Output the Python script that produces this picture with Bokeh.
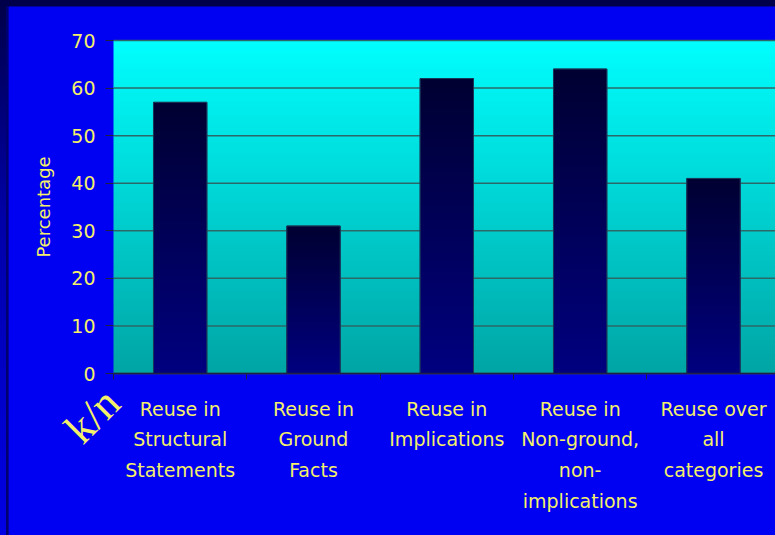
import numpy as np
from bokeh.plotting import figure
from bokeh.layouts import column, row
from bokeh.models import FixedTicker, Label, Range1d, Spacer
from bokeh.embed import file_html
from bokeh.resources import INLINE

categories = [
    "Reuse in\nStructural\nStatements",
    "Reuse in\nGround\nFacts",
    "Reuse in\nImplications",
    "Reuse in\nNon-ground,\nnon-\nimplications",
    "Reuse over\nall\ncategories",
]
percentages = [57, 31, 62, 64, 41]
y_ticks = [0, 10, 20, 30, 40, 50, 60, 70]

YELLOW = "#F4F06A"
BLUE = "#0000F2"
DARK = "#00004A"
FONT = "DejaVu Sans"

# canvas geometry (pixels) of the figure and of its plotting area
W, H = 767, 529
LEFT, TOP, BOTTOM = 105, 34, 367
PX_X = 133.33                       # pixels per category
PX_Y = (BOTTOM - TOP) / 70.0        # pixels per percent
x0 = -0.5 - LEFT / PX_X
x1 = x0 + W / PX_X
y1 = 70 + TOP / PX_Y
y0 = 70 - (H - TOP) / PX_Y

xs = np.arange(len(categories))
p = figure(
    width=W, height=H,
    x_range=Range1d(x0, x1), y_range=Range1d(y0, y1),
    output_backend="svg", toolbar_location=None,
    min_border=0,
)
p.background_fill_color = BLUE
p.border_fill_color = BLUE
p.outline_line_color = None
p.xgrid.visible = False
p.ygrid.visible = False

# background gradient of the plot area
n = 200
t = np.linspace(0, 1, n)
bg = np.zeros((n, 1), dtype=np.uint32)
view = bg.view(dtype=np.uint8).reshape((n, 1, 4))
g = (165 + 90 * t).clip(0, 255).astype(np.uint8)
view[:, 0, 0] = 0
view[:, 0, 1] = g
view[:, 0, 2] = g
view[:, 0, 3] = 255
p.image_rgba(image=[bg], x=-0.5, y=0, dw=x1 + 0.5, dh=70, level="image")

# horizontal grid lines
p.segment(x0=[-0.5] * len(y_ticks), x1=[x1] * len(y_ticks), y0=y_ticks, y1=y_ticks,
          line_color="#2d6868", line_width=1.5, level="underlay")

# bars: solid base then gradient overlay
p.vbar(x=xs, top=percentages, width=0.4, fill_color="#000060", line_color="#1a3a5a", line_width=1)
bars = []
for v in percentages:
    im = np.zeros((n, 1), dtype=np.uint32)
    vv = im.view(dtype=np.uint8).reshape((n, 1, 4))
    b = (128 - 78 * t).astype(np.uint8)
    vv[:, 0, 0] = 0
    vv[:, 0, 1] = 0
    vv[:, 0, 2] = b
    vv[:, 0, 3] = 255
    bars.append(im)
p.image_rgba(image=bars, x=list(xs - 0.2), y=[0] * len(xs), dw=[0.4] * len(xs), dh=percentages)
p.vbar(x=xs, top=percentages, width=0.4, fill_alpha=0, line_color="#1a3a5a", line_width=1)

# y axis
ya = p.yaxis[0]
ya.fixed_location = -0.5
ya.bounds = (0, 70)
ya.ticker = FixedTicker(ticks=y_ticks)
ya.axis_line_color = None
ya.major_tick_line_color = "#202040"
ya.major_tick_out = 8
ya.major_tick_in = 0
ya.minor_tick_line_color = None
ya.major_label_text_color = YELLOW
ya.major_label_text_font = FONT
ya.major_label_text_font_size = "19px"
ya.major_label_standoff = 10
ya.axis_label = "Percentage"
ya.axis_label_text_color = YELLOW
ya.axis_label_text_font = FONT
ya.axis_label_text_font_size = "18px"
ya.axis_label_text_font_style = "normal"
ya.axis_label_standoff = 14

# x axis
xa = p.xaxis[0]
xa.fixed_location = 0
xa.bounds = (-0.5, x1)
xa.ticker = FixedTicker(ticks=list(xs), minor_ticks=[i - 0.5 for i in range(len(categories) + 1)])
xa.major_label_overrides = {int(i): c for i, c in zip(xs, categories)}
xa.axis_line_color = "#202040"
xa.axis_line_width = 1.5
xa.major_tick_line_color = None
xa.minor_tick_line_color = "#202040"
xa.minor_tick_out = 6
xa.minor_tick_in = 0
xa.major_label_text_color = YELLOW
xa.major_label_text_font = FONT
xa.major_label_text_font_size = "19px"
xa.major_label_text_line_height = 1.4
xa.major_label_standoff = 18

p.add_layout(Label(
    x=-0.5 - 21 / PX_X, y=-42 / PX_Y, text="k/n", angle=np.pi / 4,
    text_font="Liberation Serif", text_font_size="44px", text_color=YELLOW,
    text_align="center", text_baseline="middle",
))

top_strip = Spacer(width=775, height=6, styles={"background-color": DARK})
left_strip = Spacer(width=8, height=H, styles={
    "background": "linear-gradient(to bottom, #00004A 0%, #0000A8 40%, #0000E6 100%)",
    "box-shadow": "inset -2px 0 0 #000070",
})
inner = row(left_strip, p, spacing=0, styles={"background-color": DARK})
layout = column(top_strip, inner, spacing=0, styles={"background-color": DARK})

open("out.html", "w").write(file_html(layout, INLINE))
